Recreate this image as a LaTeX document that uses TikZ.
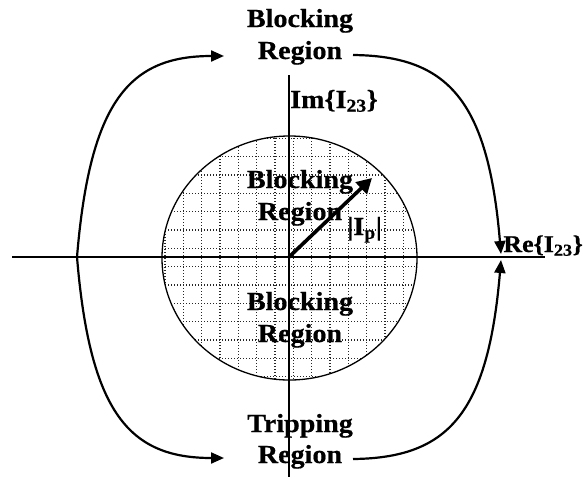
\documentclass[tikz,border=0pt]{standalone}
\usepackage{fontspec}
\setmainfont[FakeStretch=1.08, BoldFeatures={FakeBold=0.6}]{Liberation Serif}
\usetikzlibrary{arrows.meta}
\begin{document}
\begin{tikzpicture}[x=1pt,y=-1pt,
  lbl/.style={font=\fontsize{26}{32}\selectfont\bfseries, anchor=base, inner sep=0pt},
  gridline/.style={draw=black!85, line width=1.3pt, dash pattern=on 1.4pt off 1.6pt},
  axisline/.style={draw=black, line width=1.4pt},
  curve/.style={draw=black, line width=2.2pt, -{Triangle[length=13pt,width=11pt]}},
  vec/.style={draw=black, line width=3.6pt, -{Triangle[length=15pt,width=16pt]}}]
\useasboundingbox (0,0) rectangle (583,477);
% shaded disc with dotted grid
\begin{scope}
  \clip (289.5,258) ellipse [x radius=127.5pt, y radius=122pt];
  \foreach \k in {-8,...,7} {\draw[gridline] (293.3+18.33*\k,120) -- (293.3+18.33*\k,395);}
  \foreach \k in {-8,...,8} {\draw[gridline] (150,248.3+18.33*\k) -- (430,248.3+18.33*\k);}
\end{scope}
\draw[line width=1.3pt] (289.5,258) ellipse [x radius=127.5pt, y radius=122pt];
% labels inside disc
\node[lbl] (bA) at (300,188) {Blocking};
\node[lbl] (bB) at (300,220) {Region};
\node[lbl] (cA) at (300,310) {Blocking};
\node[lbl] (cB) at (300,342) {Region};
% axes
\draw[axisline] (12,257) -- (545,257);
\draw[axisline] (289,75) -- (289,477);
\node[lbl, anchor=base west] (im) at (290,108) {Im\{I\textsubscript{23}\}};
\node[lbl, anchor=base east, font=\fontsize{24}{30}\selectfont\bfseries] (re) at (583,252) {Re\{I\textsubscript{23}\}};
% phasor
\coordinate (O) at (289,257);
\coordinate (P) at (372,178);
\draw[vec] (O) -- (P);
\node[lbl, anchor=base west] (ip) at (347,235) {|I\textsubscript{p}|};
% outer labels
\node[lbl] (tA) at (300,27) {Blocking};
\node[lbl] (tB) at (300,59) {Region};
\node[lbl] (uA) at (300,432) {Tripping};
\node[lbl] (uB) at (300,463) {Region};
% outer curves
\coordinate (L) at (77,257);
\coordinate (tl) at (224,56);
\coordinate (tr) at (353,55);
\coordinate (bl) at (224,458);
\coordinate (br) at (353,459);
\coordinate (Rt) at (501,254);
\coordinate (Rb) at (501,260);
\draw[curve] (L) .. controls (90,100) and (130,56) .. (tl);
\draw[curve] (L) .. controls (90,414) and (130,458) .. (bl);
\draw[curve] (tr) .. controls (448,56) and (488,100) .. (Rt);
\draw[curve] (br) .. controls (448,458) and (488,414) .. (Rb);
\end{tikzpicture}
\end{document}
